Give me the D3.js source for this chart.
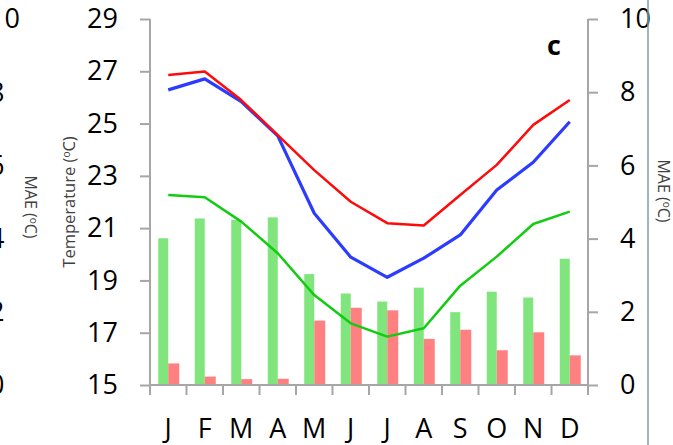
<!DOCTYPE html>
<html>
<head>
<meta charset="utf-8">
<script src="https://cdn.jsdelivr.net/npm/d3@7"></script>
<style>
  body { margin: 0; background: #fff; }
  svg { display: block; font-family: "Open Sans", sans-serif; }
</style>
</head>
<body>
<div class="vis"></div>
<script>
// month categories
const months = ['J','F','M','A','M','J','J','A','S','O','N','D'];

// temperature lines (left axis, °C)
const tempRed   = [26.86, 26.99, 25.90, 24.56, 23.22, 22.01, 21.19, 21.10, 22.27, 23.42, 24.95, 25.90];
const tempBlue  = [26.29, 26.71, 25.84, 24.53, 21.57, 19.89, 19.12, 19.85, 20.74, 22.46, 23.52, 25.07];
const tempGreen = [22.27, 22.18, 21.25, 20.04, 18.44, 17.36, 16.85, 17.17, 18.80, 19.91, 21.16, 21.63];

// MAE bars (right axis, °C)
const maeGreen = [4.01, 4.55, 4.51, 4.58, 3.03, 2.50, 2.28, 2.66, 1.99, 2.55, 2.39, 3.45];
const maeRed   = [0.59, 0.23, 0.16, 0.17, 1.76, 2.11, 2.04, 1.26, 1.51, 0.95, 1.44, 0.81];

// tick labels
const tempTicks = [15, 17, 19, 21, 23, 25, 27, 29];
const maeTicks = [0, 2, 4, 6, 8, 10];

const W = 673, H = 445;
const margin = {left: 150, right: 588, top: 19, bottom: 385};

const svg = d3.select(".vis").append("svg")
    .attr("width", W)
    .attr("height", H);

const x = d3.scaleBand()
    .domain(d3.range(months.length))
    .range([margin.left, margin.right]);

const yT = d3.scaleLinear().domain([15, 29]).range([margin.bottom, margin.top]);
const yM = d3.scaleLinear().domain([0, 10]).range([margin.bottom, margin.top]);

const axisCol = "#a6a6a6";
const barW = 10;

// bars
svg.append("g").selectAll("rect")
  .data(maeGreen)
  .enter().append("rect")
    .attr("x", (d, i) => x(i) + x.bandwidth() / 2 - barW)
    .attr("y", d => yM(d))
    .attr("width", barW)
    .attr("height", d => yM(0) - yM(d))
    .style("fill", "#80e57c");

svg.append("g").selectAll("rect")
  .data(maeRed)
  .enter().append("rect")
    .attr("x", (d, i) => x(i) + x.bandwidth() / 2)
    .attr("y", d => yM(d))
    .attr("width", barW + 1)
    .attr("height", d => yM(0) - yM(d))
    .style("fill", "#ff8080");

// lines
const line = d3.line()
    .x((d, i) => x(i) + x.bandwidth() / 2)
    .y(d => yT(d));

const series = [
  {vals: tempGreen, col: "#11cc11", w: 2.5},
  {vals: tempBlue, col: "#2b3cff", w: 3.2},
  {vals: tempRed, col: "#ff0a0a", w: 2.5}
];
svg.append("g").selectAll("path")
  .data(series)
  .enter().append("path")
    .attr("d", d => line(d.vals))
    .style("fill", "none")
    .style("stroke", d => d.col)
    .style("stroke-width", d => d.w)
    .style("stroke-linejoin", "round");

// left axis
const gL = svg.append("g").attr("transform", "translate(" + margin.left + ",0)");
gL.call(d3.axisLeft(yT).tickValues(tempTicks).tickSize(10).tickPadding(22));
// right axis
const gR = svg.append("g").attr("transform", "translate(" + margin.right + ",0)");
gR.call(d3.axisRight(yM).tickValues(maeTicks).tickSize(10).tickPadding(22));
// bottom axis with ticks at band edges
const edges = d3.range(months.length + 1).map(i => margin.left + i * x.bandwidth());
const gB = svg.append("g").attr("transform", "translate(0," + margin.bottom + ")");
gB.append("line").attr("x1", margin.left).attr("x2", margin.right).attr("stroke", axisCol).attr("stroke-width", 2);
gB.selectAll("line.tk").data(edges).enter().append("line")
    .attr("class", "tk")
    .attr("x1", d => d).attr("x2", d => d).attr("y1", 0).attr("y2", 10)
    .attr("stroke", axisCol).attr("stroke-width", 2);
gB.selectAll("text").data(months).enter().append("text")
    .attr("x", (d, i) => x(i) + x.bandwidth() / 2)
    .attr("y", 53)
    .attr("text-anchor", "middle")
    .style("font-size", "27px")
    .style("fill", "#000")
    .text(d => d);

[gL, gR].forEach(g => {
  g.select(".domain").attr("stroke", axisCol).attr("stroke-width", 2)
    .attr("d", "M0," + margin.top + "V" + margin.bottom);
  g.selectAll(".tick line").attr("stroke", axisCol).attr("stroke-width", 2);
  g.selectAll(".tick text").style("font-size", "27px").style("fill", "#000")
    .style("font-family", "'Open Sans', sans-serif");
});

// neighbouring panel's right axis labels (cut off at the left edge, as in the original figure)
svg.append("g").selectAll("text")
  .data(maeTicks)
  .enter().append("text")
    .attr("x", -11)
    .attr("y", d => yM(d))
    .attr("dy", "0.35em")
    .attr("text-anchor", "start")
    .style("font-size", "27px")
    .text(d => d);

// axis titles
function degLabel(g, main, size) {
  const t = g.append("text").attr("text-anchor", "middle").style("fill", "#404040")
    .style("font-size", size + "px");
  t.append("tspan").text(main + " (");
  t.append("tspan").text("o").style("font-size", "10px").attr("dy", "-5");
  t.append("tspan").text("C)").attr("dy", "5");
  return t;
}
degLabel(svg.append("g").attr("transform", "translate(75,202) rotate(-90)"), "Temperature", 16.5);
degLabel(svg.append("g").attr("transform", "translate(25,207) rotate(90)"), "MAE", 16);
degLabel(svg.append("g").attr("transform", "translate(658,191) rotate(90)"), "MAE", 16);

// panel letter
svg.append("text")
    .attr("x", 554)
    .attr("y", 55)
    .attr("text-anchor", "middle")
    .style("font-size", "27px")
    .style("font-weight", "bold")
    .text("c");

// panel border on the right
svg.append("line")
    .attr("x1", 648).attr("x2", 648).attr("y1", 0).attr("y2", H)
    .attr("stroke", "#7f9ea6").attr("stroke-width", 1.5);
</script>
</body>
</html>
